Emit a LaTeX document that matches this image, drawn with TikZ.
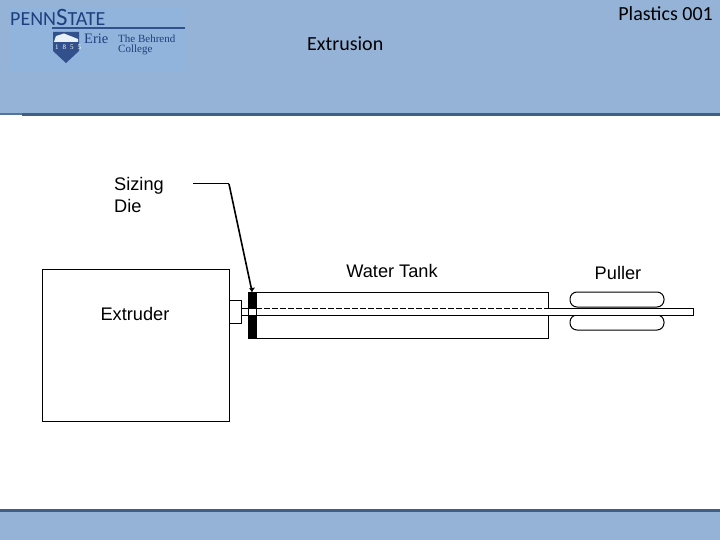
\documentclass[tikz,border=0pt]{standalone}
\usepackage{fontspec}
\setmainfont{Liberation Sans}
\newfontfamily\carl{Carlito}
\newfontfamily\logoserif{Liberation Serif}
\definecolor{band}{HTML}{95B3D7}
\definecolor{bandlogo}{HTML}{90B4DB}
\definecolor{rulecol}{HTML}{3F5F85}
\definecolor{logoblue}{HTML}{1F3F7F}
\tikzset{
  part/.style={draw=black,line width=1pt,fill=none,inner sep=0pt},
  lbl/.style={font=\fontsize{18.2}{22}\selectfont,inner sep=0pt,align=left,text=black},
  head/.style={font=\carl\fontsize{20}{22}\selectfont,inner sep=0pt,text=black},
  logotxt/.style={font=\logoserif\fontsize{11}{10}\selectfont,inner sep=0pt,text=logoblue,align=left,anchor=west},
  leader/.style={draw=black,line width=1pt},
  rubber/.style={draw=black,line width=1pt,rounded corners=7pt}
}
\begin{document}
\begin{tikzpicture}[x=1pt,y=-1pt]
\useasboundingbox (0,0) rectangle (720,540);
\fill[white] (0,0) rectangle (720,540);
% bands
\fill[band] (0,0) rectangle (720,114);
\fill[rulecol] (22,113) rectangle (720,116.5);
\fill[rulecol!75!band] (0,113) rectangle (22,115);
\fill[band] (0,512) rectangle (720,540);
\fill[rulecol] (0,509) rectangle (720,512);
% logo
\fill[bandlogo] (10,8) rectangle (185,71);
\node[inner sep=0pt,anchor=base west,text=logoblue,font=\carl\fontsize{20}{20}\selectfont] (penn) at (10,26) {PENN\fontsize{25}{25}\selectfont S\fontsize{20}{20}\selectfont TATE};
\fill[logoblue!85!band] (52,27.4) rectangle (185,28.6);
\fill[logoblue!85!band] (53,32) -- (79,32) -- (79,51) -- (66,63) -- (53,51) -- cycle;
\fill[white!80!band] (56,36) -- (64,33.5) -- (78,39) -- (78,42) -- (54,42) -- cycle;
\node[logotxt,font=\logoserif\fontsize{14.5}{14.5}\selectfont] (erie) at (84,38.5) {Erie};
\node[logotxt,font=\logoserif\fontsize{7}{7}\selectfont,text=white] (yr) at (55,47) {1\hspace{4pt}8\hspace{4pt}5\hspace{4pt}5};
\node[logotxt] (beh) at (118,44.5) {The Behrend\\College};
% headings
\node[head,anchor=base east] (pl) at (713,21) {Plastics 001};
\node[head,anchor=base west] (ex) at (307,51) {Extrusion};
% parts
\node[part,minimum width=187pt,minimum height=152pt] (extruder) at (135.5,345) {};
\node[part,minimum width=12pt,minimum height=23pt] (nozzle) at (235,311.5) {};
\node[part,minimum width=292pt,minimum height=46pt] (tank) at (402,315) {};
\node[part,fill=black,minimum width=8pt,minimum height=46pt] (die) at (252,315) {};
\node[draw=none,fill=white,inner sep=0pt,minimum width=7pt,minimum height=6pt] (bore) at (252,312) {};
\node[rubber,minimum width=94pt,minimum height=15pt,inner sep=0pt] (rolltop) at (617,299.5) {};
\node[rubber,minimum width=94pt,minimum height=15pt,inner sep=0pt] (rollbot) at (617,322.5) {};
% extrudate
\coordinate (a1) at (241,308.5);
\coordinate (a2) at (256,308.5);
\coordinate (a3) at (548,308.5);
\coordinate (a4) at (693,308.5);
\coordinate (b1) at (241,315.5);
\coordinate (b4) at (693,315.5);
\fill[white] (a3) rectangle (b4);
\draw[line width=1pt] (a1) -- (a2);
\draw[line width=1pt,dash pattern=on 6pt off 2pt] (a2) -- (a3);
\draw[line width=1pt] (a3) -- (a4) -- (b4) -- (b1);
% labels
\node[lbl,anchor=north west] (sizing) at (114,177) {Sizing\\Die};
\node[lbl,anchor=base] (extl) at (135,320) {Extruder};
\node[lbl,anchor=base] (tankl) at (392,277) {Water Tank};
\node[lbl,anchor=base] (pull) at (618,279) {Puller};
% leader
\coordinate (l0) at (193,184);
\coordinate (l1) at (229,184);
\draw[leader] (l0) -- (l1);
\draw[leader,line width=1.6pt] (l1) -- (die.north);
\fill (die.north) ++(-3,-3) -- ++(6,-1) -- (die.north) -- cycle;
\end{tikzpicture}
\end{document}
